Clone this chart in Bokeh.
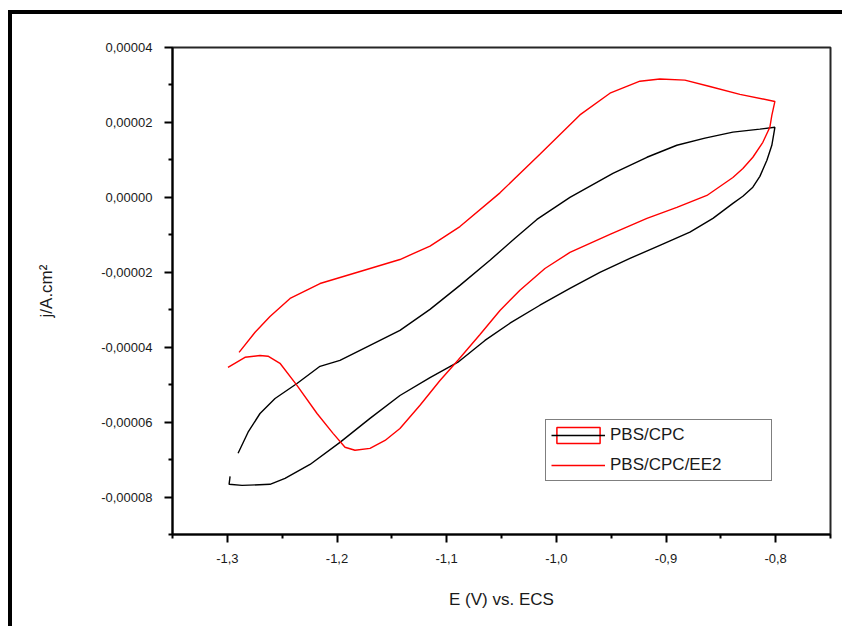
from bokeh.plotting import figure
from bokeh.models import (ColumnDataSource, FixedTicker, CustomJSTickFormatter,
                          Legend, LegendItem, Range1d)
from bokeh.embed import file_html
from bokeh.resources import INLINE

# ---- data ----
# PBS/CPC : forward scan then reverse scan
cpc_E = [-1.2902, -1.2811, -1.2702, -1.2565, -1.2365, -1.2155, -1.1973, -1.1699,
         -1.1426, -1.1152, -1.0879, -1.0605, -1.0377, -1.0177, -0.9876, -0.9484,
         -0.9174, -0.8901, -0.8645, -0.8390, -0.8144, -0.8007,
         -0.8035, -0.8080, -0.8144, -0.8208, -0.8299, -0.8390, -0.8572, -0.8782,
         -0.9056, -0.9329, -0.9603, -0.9876, -1.0150, -1.0423, -1.0651, -1.0897,
         -1.1152, -1.1426, -1.1699, -1.1973, -1.2246, -1.2474, -1.2611, -1.2866,
         -1.2984, -1.2975]
cpc_j = [-6.83e-5, -6.27e-5, -5.77e-5, -5.37e-5, -4.97e-5, -4.51e-5, -4.35e-5, -3.95e-5,
         -3.55e-5, -2.99e-5, -2.35e-5, -1.68e-5, -1.09e-5, -0.59e-5, 0.00e-5, 0.64e-5,
         1.07e-5, 1.39e-5, 1.58e-5, 1.74e-5, 1.82e-5, 1.87e-5,
         1.39e-5, 0.99e-5, 0.56e-5, 0.27e-5, 0.03e-5, -0.16e-5, -0.56e-5, -0.93e-5,
         -1.28e-5, -1.63e-5, -2.00e-5, -2.43e-5, -2.88e-5, -3.36e-5, -3.82e-5, -4.40e-5,
         -4.81e-5, -5.29e-5, -5.90e-5, -6.54e-5, -7.13e-5, -7.50e-5, -7.66e-5, -7.69e-5,
         -7.66e-5, -7.45e-5]

# PBS/CPC/EE2 : forward scan then reverse scan
ee2_E = [-1.2893, -1.2747, -1.2611, -1.2428, -1.2155, -1.1790, -1.1426, -1.1152,
         -1.0879, -1.0514, -1.0150, -0.9785, -0.9511, -0.9238, -0.9056, -0.8828,
         -0.8600, -0.8326, -0.8007,
         -0.8035, -0.8053, -0.8117, -0.8208, -0.8299, -0.8390, -0.8627, -0.8901,
         -0.9174, -0.9511, -0.9876, -1.0104, -1.0332, -1.0514, -1.0696, -1.0897,
         -1.1061, -1.1243, -1.1426, -1.1562, -1.1699, -1.1836, -1.1927, -1.2036,
         -1.2182, -1.2365, -1.2520, -1.2629, -1.2702, -1.2839, -1.2994]
ee2_j = [-4.14e-5, -3.60e-5, -3.18e-5, -2.70e-5, -2.30e-5, -1.98e-5, -1.66e-5, -1.30e-5,
         -0.78e-5, 0.12e-5, 1.15e-5, 2.20e-5, 2.78e-5, 3.10e-5, 3.16e-5, 3.13e-5,
         2.96e-5, 2.75e-5, 2.56e-5,
         2.19e-5, 1.87e-5, 1.47e-5, 1.07e-5, 0.77e-5, 0.53e-5, 0.05e-5, -0.27e-5,
         -0.56e-5, -0.99e-5, -1.47e-5, -1.90e-5, -2.48e-5, -3.02e-5, -3.66e-5, -4.35e-5,
         -4.89e-5, -5.55e-5, -6.17e-5, -6.49e-5, -6.70e-5, -6.75e-5, -6.67e-5, -6.30e-5,
         -5.77e-5, -5.02e-5, -4.43e-5, -4.24e-5, -4.22e-5, -4.27e-5, -4.54e-5]

x_ticks = [-1.3, -1.2, -1.1, -1.0, -0.9, -0.8]
x_minor = [-1.35, -1.25, -1.15, -1.05, -0.95, -0.85, -0.75]
y_ticks = [-0.00008, -0.00006, -0.00004, -0.00002, 0.0, 0.00002, 0.00004]
y_minor = [-0.00009, -0.00007, -0.00005, -0.00003, -0.00001, 0.00001, 0.00003]

series_names = ["PBS/CPC", "PBS/CPC/EE2"]
x_title = "E (V) vs. ECS"
y_title = "j/A.cm²"

FONT = "Liberation Sans"

p = figure(width=834, height=616,
           x_range=Range1d(-1.35, -0.75), y_range=Range1d(-0.00009, 0.00004),
           output_backend="svg", toolbar_location=None,
           min_border_left=160, min_border_right=16,
           min_border_top=33, min_border_bottom=96)
p.styles = {"margin-left": "8px", "margin-top": "10px",
            "border-left": "4px solid black", "border-top": "4px solid black"}

p.xgrid.visible = False
p.ygrid.visible = False
p.outline_line_color = "black"
p.outline_line_width = 2
p.outline_line_alpha = 0.85
p.background_fill_color = "white"
p.border_fill_color = "white"

p.xaxis.ticker = FixedTicker(ticks=x_ticks, minor_ticks=x_minor)
p.yaxis.ticker = FixedTicker(ticks=y_ticks, minor_ticks=y_minor)
p.xaxis.formatter = CustomJSTickFormatter(code="return tick.toFixed(1).replace('.', ',');")
p.yaxis.formatter = CustomJSTickFormatter(code="return tick.toFixed(5).replace('.', ',');")

for ax in (p.xaxis[0], p.yaxis[0]):
    ax.axis_line_width = 2
    ax.axis_line_color = "black"
    ax.major_tick_line_width = 2
    ax.minor_tick_line_width = 2
    ax.major_tick_line_color = "black"
    ax.minor_tick_line_color = "black"
    ax.major_tick_in = 0
    ax.major_tick_out = 8
    ax.minor_tick_in = 0
    ax.minor_tick_out = 4
    ax.major_label_text_font = FONT
    ax.major_label_text_font_size = "13px"
    ax.major_label_text_color = "#1a1a1a"
    ax.axis_label_text_font = FONT
    ax.axis_label_text_font_size = "17px"
    ax.axis_label_text_font_style = "normal"
    ax.axis_label_text_color = "#1a1a1a"

p.xaxis.axis_label = x_title
p.yaxis.axis_label = y_title
p.xaxis.major_label_standoff = 11
p.yaxis.major_label_standoff = 12
p.xaxis.axis_label_standoff = 24
p.yaxis.axis_label_standoff = 42

src_cpc = ColumnDataSource(dict(E=cpc_E, j=cpc_j))
src_ee2 = ColumnDataSource(dict(E=ee2_E, j=ee2_j))

r_cpc = p.line("E", "j", source=src_cpc, line_color="black", line_width=1.4)
r_ee2 = p.line("E", "j", source=src_ee2, line_color="#ff0000", line_width=1.4)
# invisible glyph that only reproduces the red box drawn around the first legend key
nan = float("nan")
r_box = p.quad(left=[nan], right=[nan], top=[nan], bottom=[nan],
               fill_color="white", fill_alpha=0.0,
               line_color="#ff0000", line_width=1.5)

legend = Legend(items=[LegendItem(label=series_names[0], renderers=[r_box, r_cpc]),
                       LegendItem(label=series_names[1], renderers=[r_ee2])],
                location=(373, 53))
legend.border_line_color = "black"
legend.border_line_width = 1.5
legend.background_fill_color = "white"
legend.background_fill_alpha = 1
legend.padding = 5
legend.spacing = 10
legend.margin = 0
legend.glyph_width = 54
legend.glyph_height = 20
legend.label_height = 20
legend.label_width = 156
legend.label_standoff = 5
legend.label_text_font = FONT
legend.label_text_font_size = "17px"
legend.label_text_color = "#1a1a1a"
p.add_layout(legend, "center")

open("out.html", "w").write(file_html(p, INLINE))
